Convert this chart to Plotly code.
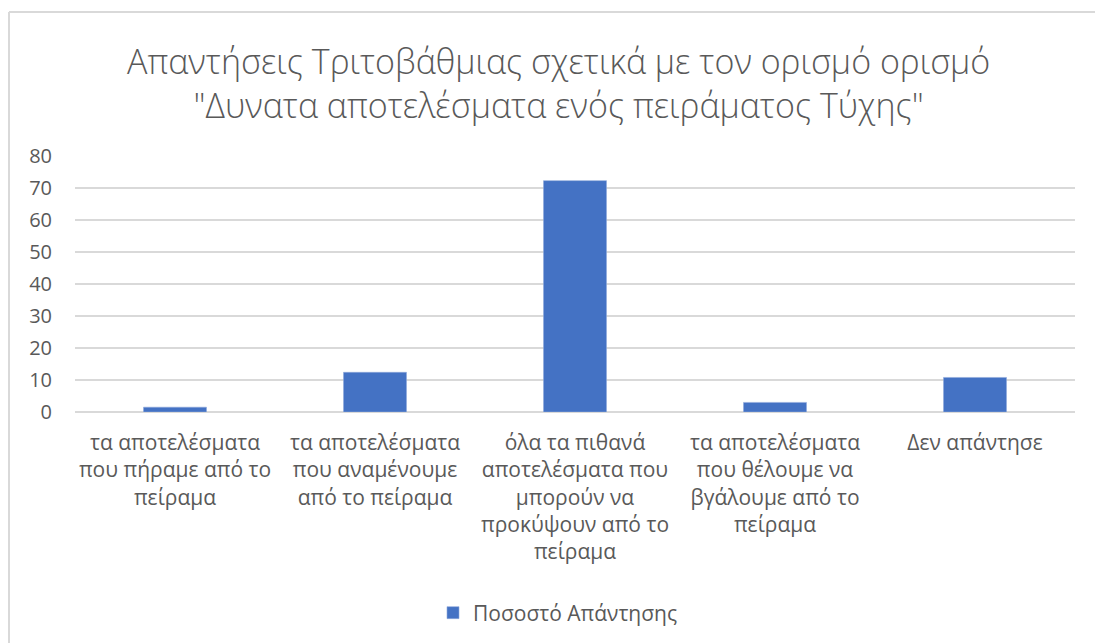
import plotly.graph_objects as go

# Response categories (x axis, wrapped) and their percentages
categories = [
    "τα αποτελέσματα<br>που πήραμε από το<br>πείραμα",
    "τα αποτελέσματα<br>που αναμένουμε<br>από το πείραμα",
    "όλα τα πιθανά<br>αποτελέσματα που<br>μπορούν να<br>προκύψουν από το<br>πείραμα",
    "τα αποτελέσματα<br>που θέλουμε να<br>βγάλουμε από το<br>πείραμα",
    "Δεν απάντησε",
]
percentages = [1.5, 12.4, 72.3, 3.0, 10.8]
y_ticks = [0, 10, 20, 30, 40, 50, 60, 70, 80]

series_name = "Ποσοστό Απάντησης"
title_text = ("Απαντήσεις Τριτοβάθμιας σχετικά με τον ορισμό ορισμό<br>"
              "\"Δυνατα αποτελέσματα ενός πειράματος Τύχης\"")

BAR_COLOR = "#4472C4"
TEXT_COLOR = "#595959"
GRID_COLOR = "#d9d9d9"

W, H = 1095, 643
ML, MR, MT, MB = 75, 20, 156, 231

fig = go.Figure()
fig.add_trace(go.Bar(
    x=categories,
    y=percentages,
    name=series_name,
    marker=dict(color=BAR_COLOR, line=dict(color="#8faadc", width=0.6)),
    showlegend=True,
))

plot_w = W - ML - MR
plot_h = H - MT - MB


def px_x(px):
    return (px - ML) / plot_w


def px_y(py):
    return (H - MB - py) / plot_h


# Chart frame (top and left edges visible)
frame_left = px_x(9)
frame_top = px_y(12)
fig.add_shape(type="line", xref="paper", yref="paper",
              x0=frame_left, x1=px_x(W + 10), y0=frame_top, y1=frame_top,
              line=dict(color=GRID_COLOR, width=2))
fig.add_shape(type="line", xref="paper", yref="paper",
              x0=frame_left, x1=frame_left, y0=frame_top, y1=px_y(H + 10),
              line=dict(color=GRID_COLOR, width=2))

fig.add_annotation(
    text=title_text, xref="paper", yref="paper",
    x=px_x(558), y=px_y(83), xanchor="center", yanchor="middle",
    showarrow=False, align="center",
    font=dict(family="Open Sans", size=34, color=TEXT_COLOR, weight=300),
)

fig.update_layout(
    width=W, height=H,
    margin=dict(l=ML, r=MR, t=MT, b=MB, autoexpand=False),
    paper_bgcolor="white", plot_bgcolor="white",
    bargap=0.685,
    font=dict(family="Open Sans", color=TEXT_COLOR, size=21),
    legend=dict(orientation="h", x=px_x(558), y=px_y(613),
                xanchor="center", yanchor="middle",
                font=dict(size=21, color=TEXT_COLOR),
                itemwidth=30),
    xaxis=dict(showgrid=False, showline=False, ticks="",
               tickfont=dict(size=21, color=TEXT_COLOR),
               ticklabelstandoff=16),
    yaxis=dict(range=[0, 80], tickvals=y_ticks, showgrid=True,
               gridcolor=GRID_COLOR, gridwidth=1.5,
               zeroline=True, zerolinecolor=GRID_COLOR, zerolinewidth=1.5,
               showline=False, ticks="",
               tickfont=dict(size=20, color=TEXT_COLOR),
               ticklabelstandoff=22),
)

fig.write_html("out.html")
